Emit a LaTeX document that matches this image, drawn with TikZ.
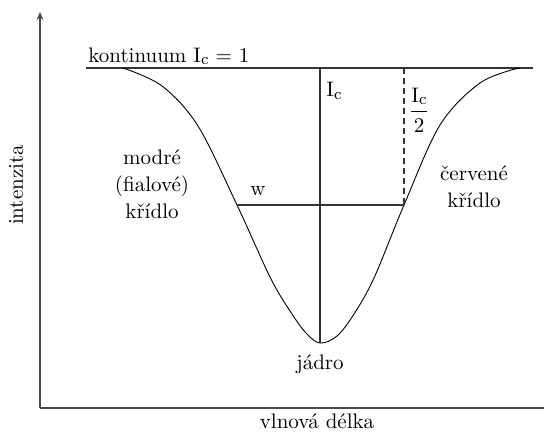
\documentclass[tikz,border=0pt]{standalone}
\usepackage{amsmath}
\usetikzlibrary{arrows.meta}
\newcommand{\Ic}{I\raisebox{-0.25ex}{\footnotesize c}}
\begin{document}
\begin{tikzpicture}[x=0.5pt,y=-0.5pt,
  axisline/.style={line width=0.8pt,draw=black!70},
  contline/.style={line width=0.75pt,draw=black!80},
  profile/.style={line width=0.45pt,draw=black},
  guide/.style={line width=0.6pt,draw=black!80},
  lbl/.style={font=\rmfamily\fontsize{10.5}{13.5}\selectfont,inner sep=0pt,align=center}]
\useasboundingbox (0,0) rectangle (544,434);
% axes
\coordinate (origin) at (40,408);
\coordinate (ytip) at (40,12);
\coordinate (xend) at (544,408);
\draw[axisline,-{Stealth[length=4pt,width=3.5pt]}] (origin) -- (ytip);
\draw[axisline] (origin) -- (xend);
% continuum
\coordinate (cl) at (86,68);
\coordinate (cr) at (533,68);
\draw[contline] (cl) -- (cr);
% key points
\coordinate (top) at (320,68);
\coordinate (core) at (320,343);
\coordinate (wl) at (237,205);
\coordinate (wr) at (404,205);
\coordinate (dtop) at (404,68);
% profile
\draw[profile] plot[smooth,tension=0.55] coordinates {
 (123,68) (162,86) (198,126) (237,205) (270,277) (290,311) (306,333) (320,343)
 (337,336) (354,314) (374,278) (404,205) (440,125) (480,83) (519,68)};
% guides
\draw[guide] (top) -- (core);
\draw[guide] (wl) -- (wr);
\draw[guide,dashed,dash pattern=on 3pt off 2pt] (dtop) -- (wr);
% labels
\node[lbl,anchor=base west] (kont) at (88,62) {kontinuum \Ic{} = 1};
\node[lbl] (ic) at (334,91) {\Ic};
\node[lbl] (half) at (419,110) {$\dfrac{\text{\Ic}}{\text{2}}$};
\node[lbl] (w) at (258,191) {w};
\node[lbl] (blue) at (152,184) {modré\\(fialové)\\křídlo};
\node[lbl] (red) at (474,187) {červené\\křídlo};
\node[lbl] (jadro) at (320,364) {jádro};
\node[lbl] (xlab) at (317,421) {vlnová délka};
\node[lbl,rotate=90] (ylab) at (16,185) {intenzita};
\end{tikzpicture}
\end{document}
